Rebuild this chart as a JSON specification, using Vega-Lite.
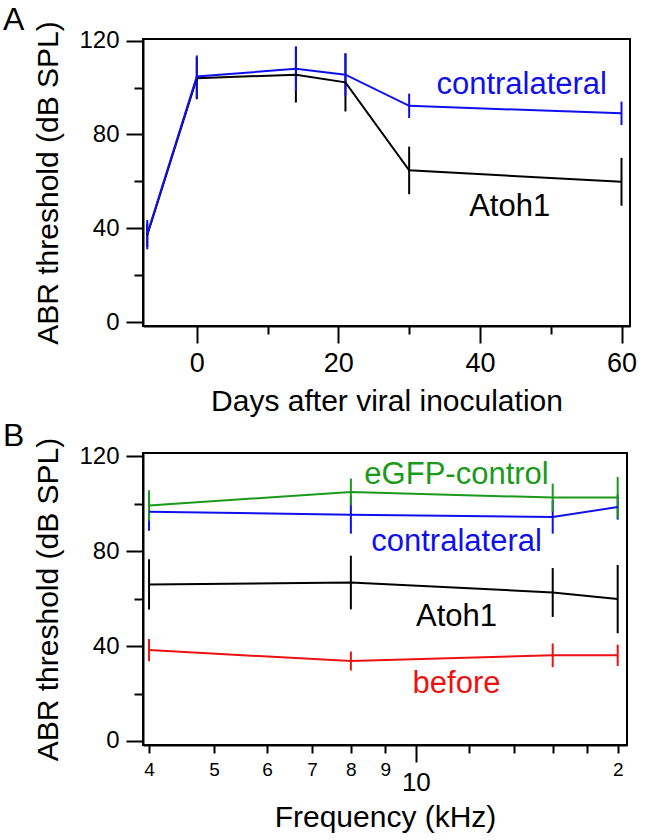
{
  "$schema": "https://vega.github.io/schema/vega-lite/v6.json",
  "padding": {"left": 1, "top": 2, "right": 5, "bottom": 5},
  "background": "white",
  "config": {
    "font": "Liberation Sans",
    "view": {"stroke": "black", "strokeWidth": 2},
    "axis": {
      "domainColor": "black", "domainWidth": 2,
      "tickColor": "black", "tickWidth": 2,
      "labelColor": "black", "titleColor": "black",
      "labelFont": "Liberation Sans", "titleFont": "Liberation Sans",
      "titleFontWeight": "normal", "grid": false,
      "labelFontSize": 24, "titleFontSize": 30
    },
    "concat": {"spacing": 2}
  },
  "datasets": {
    "days": [
      {"series": "Atoh1", "day": -7, "val": 37, "lo": 32, "hi": 42},
      {"series": "Atoh1", "day": 0, "val": 104, "lo": 95, "hi": 113},
      {"series": "Atoh1", "day": 14, "val": 105.5, "lo": 93.6, "hi": 117.4},
      {"series": "Atoh1", "day": 21, "val": 102.2, "lo": 89.8, "hi": 114.6},
      {"series": "Atoh1", "day": 30, "val": 64.7, "lo": 54.5, "hi": 74.8},
      {"series": "Atoh1", "day": 60, "val": 59.8, "lo": 49.6, "hi": 70},
      {"series": "contralateral", "day": -7, "val": 37.5, "lo": 31, "hi": 43.5},
      {"series": "contralateral", "day": 0, "val": 104.7, "lo": 95.7, "hi": 113.7},
      {"series": "contralateral", "day": 14, "val": 108, "lo": 98.5, "hi": 117.5},
      {"series": "contralateral", "day": 21, "val": 105.5, "lo": 96.5, "hi": 114.5},
      {"series": "contralateral", "day": 30, "val": 92.2, "lo": 87, "hi": 97.4},
      {"series": "contralateral", "day": 60, "val": 89, "lo": 84, "hi": 94}
    ],
    "labelsA": [
      {"series": "contralateral", "label": "contralateral", "x": 45.9, "y": 97.2},
      {"series": "Atoh1", "label": "Atoh1", "x": 44.2, "y": 45.3}
    ],
    "freq": [
      {"series": "before", "freq": 4, "val": 38.3, "lo": 33.6, "hi": 43},
      {"series": "before", "freq": 8, "val": 33.7, "lo": 29.7, "hi": 37.7},
      {"series": "before", "freq": 16, "val": 36.1, "lo": 31.1, "hi": 41.1},
      {"series": "before", "freq": 20, "val": 36.1, "lo": 31.6, "hi": 40.6},
      {"series": "Atoh1", "freq": 4, "val": 66, "lo": 55.4, "hi": 76.6},
      {"series": "Atoh1", "freq": 8, "val": 66.8, "lo": 55.5, "hi": 78.1},
      {"series": "Atoh1", "freq": 16, "val": 62.6, "lo": 52.3, "hi": 72.9},
      {"series": "Atoh1", "freq": 20, "val": 59.8, "lo": 45.4, "hi": 74.2},
      {"series": "contralateral", "freq": 4, "val": 96.6, "lo": 88.6, "hi": 104.6},
      {"series": "contralateral", "freq": 8, "val": 95.4, "lo": 87.4, "hi": 103.4},
      {"series": "contralateral", "freq": 16, "val": 94.4, "lo": 87.4, "hi": 101.4},
      {"series": "contralateral", "freq": 20, "val": 98.6, "lo": 93.3, "hi": 103.9},
      {"series": "eGFP-control", "freq": 4, "val": 99.3, "lo": 92.9, "hi": 105.7},
      {"series": "eGFP-control", "freq": 8, "val": 105, "lo": 99.4, "hi": 110.6},
      {"series": "eGFP-control", "freq": 16, "val": 102.6, "lo": 96.7, "hi": 108.5},
      {"series": "eGFP-control", "freq": 20, "val": 102.6, "lo": 93.9, "hi": 111.3}
    ],
    "labelsB": [
      {"series": "eGFP-control", "label": "eGFP-control", "x": 11.5, "y": 108.5},
      {"series": "contralateral", "label": "contralateral", "x": 11.5, "y": 80.1},
      {"series": "Atoh1", "label": "Atoh1", "x": 11.5, "y": 48.4},
      {"series": "before", "label": "before", "x": 11.5, "y": 20.3}
    ]
  },
  "vconcat": [
    {
      "width": 487,
      "height": 287,
      "title": {"text": "A", "anchor": "start", "frame": "bounds", "fontSize": 32, "fontWeight": "normal", "color": "black", "offset": -16, "dx": -31},
      "layer": [
        {
          "data": {"name": "days"},
          "mark": {"type": "rule", "strokeWidth": 2},
          "encoding": {
            "x": {"field": "day", "type": "quantitative",
              "scale": {"domain": [-7.6, 61.2], "nice": false, "zero": false},
              "axis": {
                "title": "Days after viral inoculation",
                "values": [0, 10, 20, 30, 40, 50, 60],
                "labelExpr": "datum.value % 20 == 0 ? datum.label : ''",
                "tickSize": {"condition": {"test": "datum.value % 20 == 0", "value": 17}, "value": 8},
                "labelPadding": 7, "labelFontSize": 27, "titlePadding": 10
              }},
            "y": {"field": "lo", "type": "quantitative",
              "scale": {"domain": [-1.7, 120.7], "nice": false, "zero": false},
              "axis": {
                "title": "ABR threshold (dB SPL)",
                "values": [0, 20, 40, 60, 80, 100, 120],
                "labelExpr": "datum.value % 40 == 0 ? datum.label : ''",
                "tickSize": {"condition": {"test": "datum.value % 40 == 0", "value": 17}, "value": 9},
                "labelPadding": 7, "titlePadding": 15
              }},
            "y2": {"field": "hi"},
            "color": {"field": "series", "type": "nominal",
              "scale": {"domain": ["Atoh1", "contralateral", "eGFP-control", "before"], "range": ["#000000", "#1010ee", "#1a9a1a", "#ee1111"]},
              "legend": null}
          }
        },
        {
          "data": {"name": "days"},
          "mark": {"type": "line", "strokeWidth": 2},
          "encoding": {
            "x": {"field": "day", "type": "quantitative"},
            "y": {"field": "val", "type": "quantitative"},
            "color": {"field": "series", "type": "nominal", "legend": null}
          }
        },
        {
          "data": {"name": "labelsA"},
          "mark": {"type": "text", "fontSize": 31, "align": "center", "baseline": "alphabetic"},
          "encoding": {
            "x": {"field": "x", "type": "quantitative"},
            "y": {"field": "y", "type": "quantitative"},
            "text": {"field": "label"},
            "color": {"field": "series", "type": "nominal", "legend": null}
          }
        }
      ]
    },
    {
      "width": 484,
      "height": 292,
      "title": {"text": "B", "anchor": "start", "frame": "bounds", "fontSize": 32, "fontWeight": "normal", "color": "black", "offset": -16, "dx": -31},
      "layer": [
        {
          "data": {"name": "freq"},
          "mark": {"type": "rule", "strokeWidth": 2},
          "encoding": {
            "x": {"field": "freq", "type": "quantitative",
              "scale": {"type": "log", "domain": [3.918, 20.65], "nice": false},
              "axis": {
                "title": "Frequency (kHz)",
                "values": [4, 5, 6, 7, 8, 9, 10, 12, 14, 16, 18, 20],
                "labelExpr": "datum.value == 20 ? '2' : datum.value <= 10 ? '' + datum.value : ''",
                "labelFontSize": {"condition": {"test": "datum.value == 10", "value": 26}, "value": 19},
                "tickSize": {"condition": {"test": "datum.value == 10", "value": 17}, "value": 8},
                "labelPadding": 7,
                "labelOverlap": false,
                "titlePadding": 7
              }},
            "y": {"field": "lo", "type": "quantitative",
              "scale": {"domain": [-1.7, 121.4], "nice": false, "zero": false},
              "axis": {
                "title": "ABR threshold (dB SPL)",
                "values": [0, 20, 40, 60, 80, 100, 120],
                "labelExpr": "datum.value % 40 == 0 ? datum.label : ''",
                "tickSize": {"condition": {"test": "datum.value % 40 == 0", "value": 17}, "value": 9},
                "labelPadding": 7, "titlePadding": 15
              }},
            "y2": {"field": "hi"},
            "color": {"field": "series", "type": "nominal", "legend": null}
          }
        },
        {
          "data": {"name": "freq"},
          "mark": {"type": "line", "strokeWidth": 2},
          "encoding": {
            "x": {"field": "freq", "type": "quantitative"},
            "y": {"field": "val", "type": "quantitative"},
            "color": {"field": "series", "type": "nominal", "legend": null}
          }
        },
        {
          "data": {"name": "labelsB"},
          "mark": {"type": "text", "fontSize": 31, "align": "center", "baseline": "alphabetic"},
          "encoding": {
            "x": {"field": "x", "type": "quantitative"},
            "y": {"field": "y", "type": "quantitative"},
            "text": {"field": "label"},
            "color": {"field": "series", "type": "nominal", "legend": null}
          }
        }
      ]
    }
  ]
}
